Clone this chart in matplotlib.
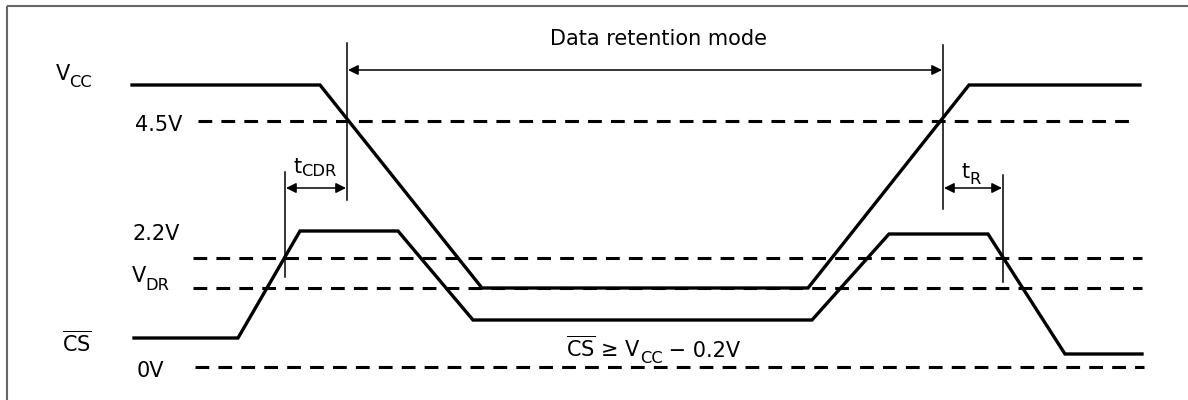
import matplotlib
matplotlib.use('Agg')
import matplotlib.pyplot as plt

# Timing diagram data (pixel-like units, y grows downward)
# VCC waveform vertices
vcc_t = [132, 320, 482, 808, 969, 1140]
vcc_level = [85, 85, 288, 288, 85, 85]

# CS (active low chip select) waveform vertices
cs_t = [134, 238, 300, 398, 473, 812, 889, 988, 1065, 1142]
cs_level = [338, 338, 231, 231, 320, 320, 234, 234, 354, 354]

# dashed reference levels: name, level, start, end
ref_names = ['4.5V', '2.2V', 'VDR', '0V']
ref_levels = [121, 258, 288, 367]
ref_start = [198, 193, 193, 195]
ref_end = [1135, 1142, 1142, 1144]

# timing markers (x positions) and their vertical extents
marker_x = [347, 943, 285, 1003]
marker_top = [43, 45, 172, 175]
marker_bot = [200, 209, 277, 282]

# dimension arrows: (start, end, y)
dim_start = [347, 285, 943]
dim_end = [943, 347, 1003]
dim_y = [70, 188, 188]

plt.rcParams['mathtext.fontset'] = 'dejavusans'
fig = plt.figure(figsize=(11.88, 4), dpi=100)
ax = fig.add_axes([0, 0, 1, 1])
ax.set_xlim(0, 1188)
ax.set_ylim(400, 0)
ax.axis('off')

# frame (top + left only)
ax.plot([6.5, 1188], [5.5, 5.5], color='#666666', lw=1.5, solid_capstyle='butt')
ax.plot([6.5, 6.5], [5.5, 400], color='#666666', lw=1.5, solid_capstyle='butt')

# reference dashed lines
for lvl, x0, x1 in zip(ref_levels, ref_start, ref_end):
    ax.plot([x0, x1], [lvl, lvl], color='black', lw=2.2,
            linestyle=(0, (4.5, 3)), dash_capstyle='butt')

# waveforms
ax.plot(vcc_t, vcc_level, color='black', lw=2.4, solid_joinstyle='miter')
ax.plot(cs_t, cs_level, color='black', lw=2.4, solid_joinstyle='miter')

# timing markers
for x, y0, y1 in zip(marker_x, marker_top, marker_bot):
    ax.plot([x, x], [y0, y1], color='black', lw=1.1)

# dimension arrows
for x0, x1, y in zip(dim_start, dim_end, dim_y):
    ax.annotate('', xy=(x0 + 1, y), xytext=(x1 - 1, y),
                arrowprops=dict(arrowstyle='<|-|>', color='black', lw=1.1,
                                mutation_scale=15, shrinkA=0, shrinkB=0))

fs = 15
fam = 'DejaVu Sans'
renderer = fig.canvas.get_renderer()


def put(x, y, s, size=fs, gap=0):
    # draw a piece of text, return x where the next piece should start
    t = ax.text(x, y, s, ha='left', va='baseline', fontsize=size, family=fam)
    bb = t.get_window_extent(renderer)
    return ax.transData.inverted().transform((bb.x1, bb.y0))[0] + gap


def label_sub(x, y, main, sub, drop=6, ratio=0.78):
    x1 = put(x, y, main, gap=-1)
    return put(x1, y + drop, sub, size=fs * ratio)


ax.text(659, 45, 'Data retention mode', ha='center', va='baseline', fontsize=fs, family=fam)
label_sub(56, 80, 'V', 'CC', drop=7)
put(135, 131, '4.5V')
label_sub(294, 173, 't', 'CDR', drop=3)
label_sub(962, 178, 't', 'R', drop=6)
put(132, 240, '2.2V')
label_sub(132, 282, 'V', 'DR', drop=8)
put(62, 352, r'$\overline{\mathrm{CS}}$')
put(137, 377, '0V')

xx = put(566, 357, r'$\overline{\mathrm{CS}}$ ≥ V', gap=-1)
xx = put(xx, 363, 'CC', size=fs * 0.78)
put(xx, 357, ' − 0.2V')

fig.savefig('out.png', dpi=100, facecolor='white')
